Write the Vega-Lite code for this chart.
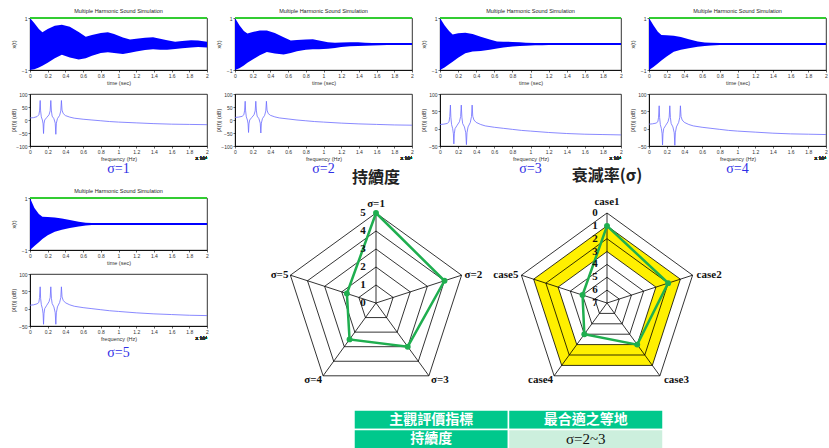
{
"$schema": "https://vega.github.io/schema/vega-lite/v6.json",
"background": "white",
"padding": {"left": 10, "top": 8, "right": 0, "bottom": 0},
"config": {
 "font": "Liberation Sans",
 "view": {"stroke": "#000", "strokeWidth": 0.8},
 "axis": {"labelFontSize": 5, "titleFontSize": 5.5, "titleFontWeight": "normal", "labelColor": "#333", "titleColor": "#333", "tickSize": 2, "tickColor": "#000", "tickWidth": 0.6, "domainColor": "#000", "domainWidth": 0.8, "labelPadding": 1, "titlePadding": 2, "grid": false, "labelOverlap": false, "labelFlush": false},
 "axisY": {"minExtent": 12, "maxExtent": 12},
 "title": {"fontWeight": "normal"}
},
"datasets": {
 "wave": [
  {"t":0,"h1":1,"l1":-1,"h2":1,"l2":-1,"h3":1,"l3":-1,"h4":1,"l4":-1,"h5":1,"l5":-1},
  {"t":0.05,"h1":0.8,"l1":-0.97,"h2":0.72,"l2":-0.93,"h3":0.72,"l3":-0.9,"h4":0.72,"l4":-0.88,"h5":0.62,"l5":-0.85},
  {"t":0.1,"h1":0.58,"l1":-0.9,"h2":0.5,"l2":-0.83,"h3":0.5,"l3":-0.78,"h4":0.47,"l4":-0.75,"h5":0.38,"l5":-0.7},
  {"t":0.14,"h1":0.45,"l1":-0.84,"h2":0.4,"l2":-0.72,"h3":0.37,"l3":-0.68,"h4":0.35,"l4":-0.63,"h5":0.28,"l5":-0.58},
  {"t":0.2,"h1":0.58,"l1":-0.72,"h2":0.46,"l2":-0.6,"h3":0.41,"l3":-0.53,"h4":0.34,"l4":-0.48,"h5":0.27,"l5":-0.43},
  {"t":0.28,"h1":0.7,"l1":-0.55,"h2":0.52,"l2":-0.43,"h3":0.43,"l3":-0.36,"h4":0.32,"l4":-0.3,"h5":0.25,"l5":-0.3},
  {"t":0.36,"h1":0.74,"l1":-0.41,"h2":0.52,"l2":-0.31,"h3":0.38,"l3":-0.29,"h4":0.27,"l4":-0.22,"h5":0.21,"l5":-0.22},
  {"t":0.45,"h1":0.66,"l1":-0.52,"h2":0.42,"l2":-0.37,"h3":0.28,"l3":-0.27,"h4":0.18,"l4":-0.16,"h5":0.15,"l5":-0.15},
  {"t":0.55,"h1":0.46,"l1":-0.6,"h2":0.26,"l2":-0.4,"h3":0.17,"l3":-0.22,"h4":0.1,"l4":-0.11,"h5":0.09,"l5":-0.1},
  {"t":0.63,"h1":0.28,"l1":-0.55,"h2":0.13,"l2":-0.35,"h3":0.1,"l3":-0.17,"h4":0.06,"l4":-0.08,"h5":0.05,"l5":-0.06},
  {"t":0.7,"h1":0.35,"l1":-0.45,"h2":0.15,"l2":-0.28,"h3":0.09,"l3":-0.13,"h4":0.05,"l4":-0.06,"h5":0.04,"l5":-0.04},
  {"t":0.8,"h1":0.42,"l1":-0.35,"h2":0.17,"l2":-0.22,"h3":0.08,"l3":-0.1,"h4":0.04,"l4":-0.04,"h5":0.02,"l5":-0.02},
  {"t":0.88,"h1":0.45,"l1":-0.32,"h2":0.18,"l2":-0.2,"h3":0.07,"l3":-0.08,"h4":0.03,"l4":-0.03,"h5":0.01,"l5":-0.01},
  {"t":0.95,"h1":0.38,"l1":-0.35,"h2":0.13,"l2":-0.2,"h3":0.05,"l3":-0.07,"h4":0.02,"l4":-0.02,"h5":0,"l5":0},
  {"t":1.05,"h1":0.25,"l1":-0.38,"h2":0.07,"l2":-0.18,"h3":0.04,"l3":-0.05,"h4":0.01,"l4":-0.01,"h5":0,"l5":0},
  {"t":1.13,"h1":0.17,"l1":-0.34,"h2":0.05,"l2":-0.15,"h3":0.03,"l3":-0.05,"h4":0,"l4":0,"h5":0,"l5":0},
  {"t":1.2,"h1":0.2,"l1":-0.29,"h2":0.06,"l2":-0.12,"h3":0.02,"l3":-0.04,"h4":0,"l4":0,"h5":0,"l5":0},
  {"t":1.3,"h1":0.24,"l1":-0.23,"h2":0.07,"l2":-0.09,"h3":0.02,"l3":-0.03,"h4":0,"l4":0,"h5":0,"l5":0},
  {"t":1.39,"h1":0.26,"l1":-0.2,"h2":0.07,"l2":-0.08,"h3":0.01,"l3":-0.02,"h4":0,"l4":0,"h5":0,"l5":0},
  {"t":1.47,"h1":0.2,"l1":-0.22,"h2":0.05,"l2":-0.07,"h3":0.01,"l3":-0.01,"h4":0,"l4":0,"h5":0,"l5":0},
  {"t":1.55,"h1":0.14,"l1":-0.22,"h2":0.04,"l2":-0.06,"h3":0,"l3":0,"h4":0,"l4":0,"h5":0,"l5":0},
  {"t":1.64,"h1":0.09,"l1":-0.19,"h2":0.03,"l2":-0.05,"h3":0,"l3":0,"h4":0,"l4":0,"h5":0,"l5":0},
  {"t":1.72,"h1":0.12,"l1":-0.16,"h2":0.03,"l2":-0.04,"h3":0,"l3":0,"h4":0,"l4":0,"h5":0,"l5":0},
  {"t":1.82,"h1":0.14,"l1":-0.13,"h2":0.03,"l2":-0.04,"h3":0,"l3":0,"h4":0,"l4":0,"h5":0,"l5":0},
  {"t":1.9,"h1":0.13,"l1":-0.12,"h2":0.03,"l2":-0.03,"h3":0,"l3":0,"h4":0,"l4":0,"h5":0,"l5":0},
  {"t":2,"h1":0.09,"l1":-0.13,"h2":0.03,"l2":-0.03,"h3":0,"l3":0,"h4":0,"l4":0,"h5":0,"l5":0}
 ],
 "spec": [
  {"f":0,"s1":8,"s2":10,"s3":12,"s4":13,"s5":10},
  {"f":0.04,"s1":9,"s2":11,"s3":13,"s4":14,"s5":11},
  {"f":0.08,"s1":13,"s2":14,"s3":15,"s4":16,"s5":14},
  {"f":0.1,"s1":20,"s2":20,"s3":20,"s4":20,"s5":18},
  {"f":0.108,"s1":35,"s2":35,"s3":35,"s4":33,"s5":32},
  {"f":0.115,"s1":75,"s2":72,"s3":68,"s4":66,"s5":63},
  {"f":0.12,"s1":35,"s2":35,"s3":33,"s4":32,"s5":30},
  {"f":0.128,"s1":12,"s2":12,"s3":12,"s4":12,"s5":12},
  {"f":0.14,"s1":0,"s2":0,"s3":0,"s4":0,"s5":0},
  {"f":0.148,"s1":-15,"s2":-15,"s3":-15,"s4":-15,"s5":-15},
  {"f":0.153,"s1":-52,"s2":-48,"s3":-44,"s4":-47,"s5":-45},
  {"f":0.158,"s1":-15,"s2":-15,"s3":-15,"s4":-15,"s5":-15},
  {"f":0.166,"s1":0,"s2":0,"s3":0,"s4":0,"s5":0},
  {"f":0.19,"s1":10,"s2":10,"s3":10,"s4":10,"s5":10},
  {"f":0.215,"s1":20,"s2":20,"s3":20,"s4":20,"s5":20},
  {"f":0.228,"s1":35,"s2":35,"s3":35,"s4":33,"s5":32},
  {"f":0.235,"s1":75,"s2":72,"s3":68,"s4":66,"s5":63},
  {"f":0.242,"s1":35,"s2":35,"s3":33,"s4":32,"s5":30},
  {"f":0.25,"s1":15,"s2":15,"s3":15,"s4":15,"s5":15},
  {"f":0.27,"s1":5,"s2":5,"s3":5,"s4":5,"s5":5},
  {"f":0.285,"s1":-12,"s2":-12,"s3":-12,"s4":-12,"s5":-12},
  {"f":0.292,"s1":-55,"s2":-50,"s3":-46,"s4":-48,"s5":-45},
  {"f":0.298,"s1":-12,"s2":-12,"s3":-12,"s4":-12,"s5":-12},
  {"f":0.31,"s1":5,"s2":5,"s3":5,"s4":5,"s5":5},
  {"f":0.335,"s1":18,"s2":18,"s3":18,"s4":18,"s5":18},
  {"f":0.348,"s1":35,"s2":35,"s3":35,"s4":33,"s5":32},
  {"f":0.355,"s1":75,"s2":72,"s3":68,"s4":66,"s5":63},
  {"f":0.362,"s1":38,"s2":38,"s3":36,"s4":35,"s5":34},
  {"f":0.375,"s1":25,"s2":25,"s3":25,"s4":25,"s5":24},
  {"f":0.4,"s1":17,"s2":18,"s3":18,"s4":18,"s5":17},
  {"f":0.45,"s1":11,"s2":12,"s3":12,"s4":12,"s5":11},
  {"f":0.5,"s1":7,"s2":8,"s3":8,"s4":8,"s5":7},
  {"f":0.6,"s1":3,"s2":4,"s3":4,"s4":4,"s5":3},
  {"f":0.7,"s1":0,"s2":0,"s3":1,"s4":1,"s5":0},
  {"f":0.8,"s1":-3,"s2":-3,"s3":-2,"s4":-2,"s5":-3},
  {"f":0.9,"s1":-6,"s2":-6,"s3":-5,"s4":-5,"s5":-6},
  {"f":1,"s1":-8,"s2":-8,"s3":-7,"s4":-7,"s5":-8},
  {"f":1.2,"s1":-11,"s2":-12,"s3":-11,"s4":-10,"s5":-12},
  {"f":1.4,"s1":-14,"s2":-15,"s3":-14,"s4":-13,"s5":-15},
  {"f":1.6,"s1":-16,"s2":-17,"s3":-16,"s4":-15,"s5":-17},
  {"f":1.8,"s1":-17,"s2":-19,"s3":-17,"s4":-16,"s5":-19},
  {"f":2,"s1":-18,"s2":-20,"s3":-18,"s4":-17,"s5":-20}
 ],
 "r1rings": [{"lv":1,"k":[0,1,2,3,4]},{"lv":2,"k":[0,1,2,3,4]},{"lv":3,"k":[0,1,2,3,4]},{"lv":4,"k":[0,1,2,3,4]},{"lv":5,"k":[0,1,2,3,4]}],
 "r2rings": [{"lv":0,"k":[0,1,2,3,4]},{"lv":1,"k":[0,1,2,3,4]},{"lv":2,"k":[0,1,2,3,4]},{"lv":3,"k":[0,1,2,3,4]},{"lv":4,"k":[0,1,2,3,4]},{"lv":5,"k":[0,1,2,3,4]},{"lv":6,"k":[0,1,2,3,4]}],
 "axes5": [{"k":0},{"k":1},{"k":2},{"k":3},{"k":4}],
 "dur": [{"k":0,"lab":"σ=1","v":5},{"k":1,"lab":"σ=2","v":4},{"k":2,"lab":"σ=3","v":3},{"k":3,"lab":"σ=4","v":2.5},{"k":4,"lab":"σ=5","v":1.7}],
 "dec": [{"k":0,"lab":"case1","v":1},{"k":1,"lab":"case2","v":2},{"k":2,"lab":"case3","v":3},{"k":3,"lab":"case4","v":4},{"k":4,"lab":"case5","v":5}],
 "tick1": [{"v":0},{"v":1},{"v":2},{"v":3},{"v":4},{"v":5}],
 "tick2": [{"v":0},{"v":1},{"v":2},{"v":3},{"v":4},{"v":5},{"v":6},{"v":7}],
 "table": [{"c":0,"r":0,"txt":"主觀評價指標","kind":"h"},{"c":1,"r":0,"txt":"最合適之等地","kind":"h"},{"c":0,"r":1,"txt":"持續度","kind":"h"},{"c":1,"r":1,"txt":"σ=2~3","kind":"v"}]
},
"spacing": -8,
"vconcat": [
 {
  "spacing": 6,
  "hconcat": [
   {"bounds": "flush", "spacing": 24, "vconcat": [
    {"width": 177, "height": 52, "title": {"text": "Multiple Harmonic Sound Simulation", "fontSize": 5.5, "offset": 2, "color": "#222"}, "data": {"name": "wave"},
     "layer": [
      {"mark": {"type": "area", "color": "#0000ff"}, "encoding": {"x": {"field": "t", "type": "quantitative", "scale": {"domain": [0, 2]}, "axis": {"title": "time (sec)", "values": [0,0.2,0.4,0.6,0.8,1,1.2,1.4,1.6,1.8,2], "format": "~g", "labelOverlap": false}}, "y": {"field": "h1", "type": "quantitative", "scale": {"domain": [-1, 1]}, "axis": {"title": "x(t)", "values": [-1,-0.5,0,0.5,1], "format": "~g", "labelOverlap": false}}, "y2": {"field": "l1"}}},
      {"mark": {"type": "rule", "color": "#0000ff", "strokeWidth": 0.8}, "encoding": {"y": {"datum": 0}}},
      {"mark": {"type": "rule", "color": "#33cc33", "strokeWidth": 1}, "encoding": {"y": {"datum": 1}}}
     ]},
    {"width": 177, "height": 52, "title": {"text": "σ=1", "orient": "bottom", "font": "Liberation Serif", "fontSize": 14, "color": "#2f2fe6", "offset": 0}, "data": {"name": "spec"},
     "layer": [
      {"mark": {"type": "line", "color": "#6b6bff", "strokeWidth": 0.8}, "encoding": {"x": {"field": "f", "type": "quantitative", "scale": {"domain": [0, 2]}, "axis": {"title": "frequency (Hz)", "values": [0,0.2,0.4,0.6,0.8,1,1.2,1.4,1.6,1.8,2], "format": "~g", "labelOverlap": false}}, "y": {"field": "s1", "type": "quantitative", "scale": {"domain": [-100, 100]}, "axis": {"title": "|X(f)| (dB)", "values": [-100,-50,0,50,100], "labelOverlap": false}}}},
      {"mark": {"type": "text", "text": "x 10⁴", "font": "DejaVu Sans", "fontSize": 4.5, "dy": 13, "align": "right", "color": "#333"}, "encoding": {"x": {"datum": 2, "type": "quantitative", "scale": {"domain": [0, 2]}, "axis": {"title": "frequency (Hz)", "values": [0,0.2,0.4,0.6,0.8,1,1.2,1.4,1.6,1.8,2], "format": "~g", "labelOverlap": false}}, "y": {"datum": -100, "type": "quantitative", "scale": {"domain": [-100, 100]}, "axis": {"title": "|X(f)| (dB)", "values": [-100,-50,0,50,100], "labelOverlap": false}}}}
     ]}
   ]},
   {"bounds": "flush", "spacing": 24, "vconcat": [
    {"width": 177, "height": 52, "title": {"text": "Multiple Harmonic Sound Simulation", "fontSize": 5.5, "offset": 2, "color": "#222"}, "data": {"name": "wave"},
     "layer": [
      {"mark": {"type": "area", "color": "#0000ff"}, "encoding": {"x": {"field": "t", "type": "quantitative", "scale": {"domain": [0, 2]}, "axis": {"title": "time (sec)", "values": [0,0.2,0.4,0.6,0.8,1,1.2,1.4,1.6,1.8,2], "format": "~g", "labelOverlap": false}}, "y": {"field": "h2", "type": "quantitative", "scale": {"domain": [-1, 1]}, "axis": {"title": "x(t)", "values": [-1,-0.5,0,0.5,1], "format": "~g", "labelOverlap": false}}, "y2": {"field": "l2"}}},
      {"mark": {"type": "rule", "color": "#0000ff", "strokeWidth": 0.8}, "encoding": {"y": {"datum": 0}}},
      {"mark": {"type": "rule", "color": "#33cc33", "strokeWidth": 1}, "encoding": {"y": {"datum": 1}}}
     ]},
    {"width": 177, "height": 52, "title": {"text": "σ=2", "orient": "bottom", "font": "Liberation Serif", "fontSize": 14, "color": "#2f2fe6", "offset": 0}, "data": {"name": "spec"},
     "layer": [
      {"mark": {"type": "line", "color": "#6b6bff", "strokeWidth": 0.8}, "encoding": {"x": {"field": "f", "type": "quantitative", "scale": {"domain": [0, 2]}, "axis": {"title": "frequency (Hz)", "values": [0,0.2,0.4,0.6,0.8,1,1.2,1.4,1.6,1.8,2], "format": "~g", "labelOverlap": false}}, "y": {"field": "s2", "type": "quantitative", "scale": {"domain": [-100, 100]}, "axis": {"title": "|X(f)| (dB)", "values": [-100,-50,0,50,100], "labelOverlap": false}}}},
      {"mark": {"type": "text", "text": "x 10⁴", "font": "DejaVu Sans", "fontSize": 4.5, "dy": 13, "align": "right", "color": "#333"}, "encoding": {"x": {"datum": 2, "type": "quantitative", "scale": {"domain": [0, 2]}, "axis": {"title": "frequency (Hz)", "values": [0,0.2,0.4,0.6,0.8,1,1.2,1.4,1.6,1.8,2], "format": "~g", "labelOverlap": false}}, "y": {"datum": -100, "type": "quantitative", "scale": {"domain": [-100, 100]}, "axis": {"title": "|X(f)| (dB)", "values": [-100,-50,0,50,100], "labelOverlap": false}}}}
     ]}
   ]},
   {"bounds": "flush", "spacing": 24, "vconcat": [
    {"width": 181, "height": 52, "title": {"text": "Multiple Harmonic Sound Simulation", "fontSize": 5.5, "offset": 2, "color": "#222"}, "data": {"name": "wave"},
     "layer": [
      {"mark": {"type": "area", "color": "#0000ff"}, "encoding": {"x": {"field": "t", "type": "quantitative", "scale": {"domain": [0, 2]}, "axis": {"title": "time (sec)", "values": [0,0.2,0.4,0.6,0.8,1,1.2,1.4,1.6,1.8,2], "format": "~g", "labelOverlap": false}}, "y": {"field": "h3", "type": "quantitative", "scale": {"domain": [-1, 1]}, "axis": {"title": "x(t)", "values": [-1,-0.5,0,0.5,1], "format": "~g", "labelOverlap": false}}, "y2": {"field": "l3"}}},
      {"mark": {"type": "rule", "color": "#0000ff", "strokeWidth": 0.8}, "encoding": {"y": {"datum": 0}}},
      {"mark": {"type": "rule", "color": "#33cc33", "strokeWidth": 1}, "encoding": {"y": {"datum": 1}}}
     ]},
    {"width": 181, "height": 52, "title": {"text": "σ=3", "orient": "bottom", "font": "Liberation Serif", "fontSize": 14, "color": "#2f2fe6", "offset": 0}, "data": {"name": "spec"},
     "layer": [
      {"mark": {"type": "line", "color": "#6b6bff", "strokeWidth": 0.8}, "encoding": {"x": {"field": "f", "type": "quantitative", "scale": {"domain": [0, 2]}, "axis": {"title": "frequency (Hz)", "values": [0,0.2,0.4,0.6,0.8,1,1.2,1.4,1.6,1.8,2], "format": "~g", "labelOverlap": false}}, "y": {"field": "s3", "type": "quantitative", "scale": {"domain": [-50, 100]}, "axis": {"title": "|X(f)| (dB)", "values": [-50,0,50,100], "labelOverlap": false}}}},
      {"mark": {"type": "text", "text": "x 10⁴", "font": "DejaVu Sans", "fontSize": 4.5, "dy": 13, "align": "right", "color": "#333"}, "encoding": {"x": {"datum": 2, "type": "quantitative", "scale": {"domain": [0, 2]}, "axis": {"title": "frequency (Hz)", "values": [0,0.2,0.4,0.6,0.8,1,1.2,1.4,1.6,1.8,2], "format": "~g", "labelOverlap": false}}, "y": {"datum": -50, "type": "quantitative", "scale": {"domain": [-50, 100]}, "axis": {"title": "|X(f)| (dB)", "values": [-50,0,50,100], "labelOverlap": false}}}}
     ]}
   ]},
   {"bounds": "flush", "spacing": 24, "vconcat": [
    {"width": 177, "height": 52, "title": {"text": "Multiple Harmonic Sound Simulation", "fontSize": 5.5, "offset": 2, "color": "#222"}, "data": {"name": "wave"},
     "layer": [
      {"mark": {"type": "area", "color": "#0000ff"}, "encoding": {"x": {"field": "t", "type": "quantitative", "scale": {"domain": [0, 2]}, "axis": {"title": "time (sec)", "values": [0,0.2,0.4,0.6,0.8,1,1.2,1.4,1.6,1.8,2], "format": "~g", "labelOverlap": false}}, "y": {"field": "h4", "type": "quantitative", "scale": {"domain": [-1, 1]}, "axis": {"title": "x(t)", "values": [-1,-0.5,0,0.5,1], "format": "~g", "labelOverlap": false}}, "y2": {"field": "l4"}}},
      {"mark": {"type": "rule", "color": "#0000ff", "strokeWidth": 0.8}, "encoding": {"y": {"datum": 0}}},
      {"mark": {"type": "rule", "color": "#33cc33", "strokeWidth": 1}, "encoding": {"y": {"datum": 1}}}
     ]},
    {"width": 177, "height": 52, "title": {"text": "σ=4", "orient": "bottom", "font": "Liberation Serif", "fontSize": 14, "color": "#2f2fe6", "offset": 0}, "data": {"name": "spec"},
     "layer": [
      {"mark": {"type": "line", "color": "#6b6bff", "strokeWidth": 0.8}, "encoding": {"x": {"field": "f", "type": "quantitative", "scale": {"domain": [0, 2]}, "axis": {"title": "frequency (Hz)", "values": [0,0.2,0.4,0.6,0.8,1,1.2,1.4,1.6,1.8,2], "format": "~g", "labelOverlap": false}}, "y": {"field": "s4", "type": "quantitative", "scale": {"domain": [-50, 100]}, "axis": {"title": "|X(f)| (dB)", "values": [-50,0,50,100], "labelOverlap": false}}}},
      {"mark": {"type": "text", "text": "x 10⁴", "font": "DejaVu Sans", "fontSize": 4.5, "dy": 13, "align": "right", "color": "#333"}, "encoding": {"x": {"datum": 2, "type": "quantitative", "scale": {"domain": [0, 2]}, "axis": {"title": "frequency (Hz)", "values": [0,0.2,0.4,0.6,0.8,1,1.2,1.4,1.6,1.8,2], "format": "~g", "labelOverlap": false}}, "y": {"datum": -50, "type": "quantitative", "scale": {"domain": [-50, 100]}, "axis": {"title": "|X(f)| (dB)", "values": [-50,0,50,100], "labelOverlap": false}}}}
     ]}
   ]}
  ]
 },
 {
  "spacing": 61,
  "hconcat": [
   {"bounds": "flush", "spacing": 24, "vconcat": [
    {"width": 177, "height": 52, "title": {"text": "Multiple Harmonic Sound Simulation", "fontSize": 5.5, "offset": 2, "color": "#222"}, "data": {"name": "wave"},
     "layer": [
      {"mark": {"type": "area", "color": "#0000ff"}, "encoding": {"x": {"field": "t", "type": "quantitative", "scale": {"domain": [0, 2]}, "axis": {"title": "time (sec)", "values": [0,0.2,0.4,0.6,0.8,1,1.2,1.4,1.6,1.8,2], "format": "~g", "labelOverlap": false}}, "y": {"field": "h5", "type": "quantitative", "scale": {"domain": [-1, 1]}, "axis": {"title": "x(t)", "values": [-1,-0.5,0,0.5,1], "format": "~g", "labelOverlap": false}}, "y2": {"field": "l5"}}},
      {"mark": {"type": "rule", "color": "#0000ff", "strokeWidth": 0.8}, "encoding": {"y": {"datum": 0}}},
      {"mark": {"type": "rule", "color": "#33cc33", "strokeWidth": 1}, "encoding": {"y": {"datum": 1}}}
     ]},
    {"width": 177, "height": 52, "title": {"text": "σ=5", "orient": "bottom", "font": "Liberation Serif", "fontSize": 14, "color": "#2f2fe6", "offset": 4}, "data": {"name": "spec"},
     "layer": [
      {"mark": {"type": "line", "color": "#6b6bff", "strokeWidth": 0.8}, "encoding": {"x": {"field": "f", "type": "quantitative", "scale": {"domain": [0, 2]}, "axis": {"title": "frequency (Hz)", "values": [0,0.2,0.4,0.6,0.8,1,1.2,1.4,1.6,1.8,2], "format": "~g", "labelOverlap": false}}, "y": {"field": "s5", "type": "quantitative", "scale": {"domain": [-50, 100]}, "axis": {"title": "|X(f)| (dB)", "values": [-50,0,50,100], "labelOverlap": false}}}},
      {"mark": {"type": "text", "text": "x 10⁴", "font": "DejaVu Sans", "fontSize": 4.5, "dy": 13, "align": "right", "color": "#333"}, "encoding": {"x": {"datum": 2, "type": "quantitative", "scale": {"domain": [0, 2]}, "axis": {"title": "frequency (Hz)", "values": [0,0.2,0.4,0.6,0.8,1,1.2,1.4,1.6,1.8,2], "format": "~g", "labelOverlap": false}}, "y": {"datum": -50, "type": "quantitative", "scale": {"domain": [-50, 100]}, "axis": {"title": "|X(f)| (dB)", "values": [-50,0,50,100], "labelOverlap": false}}}}
     ]}
   ]},
   {"spacing": 16, "vconcat": [
    {"spacing": 10, "hconcat": [
     {"width": 180, "height": 195, "view": {"stroke": null},
      "title": {"text": "持續度", "font": "Noto Sans CJK TC", "fontSize": 16, "fontWeight": "bold", "color": "#222", "offset": 12},
      "layer": [
       {"data": {"name": "r1rings"}, "transform": [{"flatten": ["k"]}, {"calculate": "datum.lv/5*sin(datum.k*2*PI/5)", "as": "x"}, {"calculate": "datum.lv/5*cos(datum.k*2*PI/5)", "as": "y"}],
        "mark": {"type": "line", "color": "#000", "strokeWidth": 0.8, "interpolate": "linear-closed"},
        "encoding": {"x": {"field": "x", "type": "quantitative", "scale": {"domain": [-1, 1]}, "axis": null}, "y": {"field": "y", "type": "quantitative", "scale": {"domain": [-1, 1.1667]}, "axis": null}, "detail": {"field": "lv"}, "order": {"field": "k"}}},
       {"data": {"name": "axes5"}, "transform": [{"calculate": "sin(datum.k*2*PI/5)", "as": "x"}, {"calculate": "cos(datum.k*2*PI/5)", "as": "y"}, {"calculate": "0", "as": "o"}],
        "mark": {"type": "rule", "color": "#000", "strokeWidth": 0.8},
        "encoding": {"x": {"field": "x", "type": "quantitative", "scale": {"domain": [-1, 1]}, "axis": null}, "y": {"field": "y", "type": "quantitative", "scale": {"domain": [-1, 1.1667]}, "axis": null}, "x2": {"field": "o"}, "y2": {"field": "o"}}},
       {"data": {"name": "dur"}, "transform": [{"calculate": "datum.v/5*sin(datum.k*2*PI/5)", "as": "x"}, {"calculate": "datum.v/5*cos(datum.k*2*PI/5)", "as": "y"}],
        "mark": {"type": "line", "color": "#1fae4f", "strokeWidth": 2.5, "interpolate": "linear-closed"},
        "encoding": {"x": {"field": "x", "type": "quantitative", "scale": {"domain": [-1, 1]}, "axis": null}, "y": {"field": "y", "type": "quantitative", "scale": {"domain": [-1, 1.1667]}, "axis": null}, "order": {"field": "k"}}},
       {"data": {"name": "dur"}, "transform": [{"calculate": "datum.v/5*sin(datum.k*2*PI/5)", "as": "x"}, {"calculate": "datum.v/5*cos(datum.k*2*PI/5)", "as": "y"}],
        "mark": {"type": "point", "filled": true, "color": "#1fae4f", "size": 35, "opacity": 1},
        "encoding": {"x": {"field": "x", "type": "quantitative", "scale": {"domain": [-1, 1]}, "axis": null}, "y": {"field": "y", "type": "quantitative", "scale": {"domain": [-1, 1.1667]}, "axis": null}}},
       {"data": {"name": "tick1"}, "transform": [{"calculate": "datum.v/5", "as": "y"}, {"calculate": "0", "as": "x"}],
        "mark": {"type": "text", "font": "Liberation Serif", "fontWeight": "bold", "fontSize": 11, "dx": -13, "color": "#111"},
        "encoding": {"x": {"field": "x", "type": "quantitative", "scale": {"domain": [-1, 1]}, "axis": null}, "y": {"field": "y", "type": "quantitative", "scale": {"domain": [-1, 1.1667]}, "axis": null}, "text": {"field": "v", "type": "quantitative"}}},
       {"data": {"name": "dur"}, "transform": [{"filter": "datum.k==0"}, {"calculate": "sin(datum.k*2*PI/5)", "as": "x"}, {"calculate": "cos(datum.k*2*PI/5)", "as": "y"}],
        "mark": {"type": "text", "font": "Liberation Serif", "fontWeight": "bold", "fontSize": 11, "color": "#111", "align": "center", "dy": -9},
        "encoding": {"x": {"field": "x", "type": "quantitative", "scale": {"domain": [-1, 1]}, "axis": null}, "y": {"field": "y", "type": "quantitative", "scale": {"domain": [-1, 1.1667]}, "axis": null}, "text": {"field": "lab"}}},
       {"data": {"name": "dur"}, "transform": [{"filter": "datum.k==1"}, {"calculate": "sin(datum.k*2*PI/5)", "as": "x"}, {"calculate": "cos(datum.k*2*PI/5)", "as": "y"}],
        "mark": {"type": "text", "font": "Liberation Serif", "fontWeight": "bold", "fontSize": 11, "color": "#111", "align": "left", "dx": 3},
        "encoding": {"x": {"field": "x", "type": "quantitative", "scale": {"domain": [-1, 1]}, "axis": null}, "y": {"field": "y", "type": "quantitative", "scale": {"domain": [-1, 1.1667]}, "axis": null}, "text": {"field": "lab"}}},
       {"data": {"name": "dur"}, "transform": [{"filter": "datum.k==2"}, {"calculate": "sin(datum.k*2*PI/5)", "as": "x"}, {"calculate": "cos(datum.k*2*PI/5)", "as": "y"}],
        "mark": {"type": "text", "font": "Liberation Serif", "fontWeight": "bold", "fontSize": 11, "color": "#111", "align": "left", "dx": 2, "dy": 4},
        "encoding": {"x": {"field": "x", "type": "quantitative", "scale": {"domain": [-1, 1]}, "axis": null}, "y": {"field": "y", "type": "quantitative", "scale": {"domain": [-1, 1.1667]}, "axis": null}, "text": {"field": "lab"}}},
       {"data": {"name": "dur"}, "transform": [{"filter": "datum.k==3"}, {"calculate": "sin(datum.k*2*PI/5)", "as": "x"}, {"calculate": "cos(datum.k*2*PI/5)", "as": "y"}],
        "mark": {"type": "text", "font": "Liberation Serif", "fontWeight": "bold", "fontSize": 11, "color": "#111", "align": "right", "dx": -1, "dy": 4},
        "encoding": {"x": {"field": "x", "type": "quantitative", "scale": {"domain": [-1, 1]}, "axis": null}, "y": {"field": "y", "type": "quantitative", "scale": {"domain": [-1, 1.1667]}, "axis": null}, "text": {"field": "lab"}}},
       {"data": {"name": "dur"}, "transform": [{"filter": "datum.k==4"}, {"calculate": "sin(datum.k*2*PI/5)", "as": "x"}, {"calculate": "cos(datum.k*2*PI/5)", "as": "y"}],
        "mark": {"type": "text", "font": "Liberation Serif", "fontWeight": "bold", "fontSize": 11, "color": "#111", "align": "right", "dx": -2},
        "encoding": {"x": {"field": "x", "type": "quantitative", "scale": {"domain": [-1, 1]}, "axis": null}, "y": {"field": "y", "type": "quantitative", "scale": {"domain": [-1, 1.1667]}, "axis": null}, "text": {"field": "lab"}}}
      ]},
     {"width": 180, "height": 195, "view": {"stroke": null},
      "title": {"text": "衰減率(σ)", "font": "Noto Sans CJK TC", "fontSize": 16, "fontWeight": "bold", "color": "#222", "offset": 12},
      "layer": [
       {"data": {"name": "r2rings"}, "transform": [{"filter": "datum.lv==1"}, {"flatten": ["k"]}, {"calculate": "(7-datum.lv)/7*sin(datum.k*2*PI/5)", "as": "x"}, {"calculate": "(7-datum.lv)/7*cos(datum.k*2*PI/5)", "as": "y"}],
        "mark": {"type": "line", "fill": "#fff000", "strokeWidth": 0, "interpolate": "linear-closed"},
        "encoding": {"x": {"field": "x", "type": "quantitative", "scale": {"domain": [-1, 1]}, "axis": null}, "y": {"field": "y", "type": "quantitative", "scale": {"domain": [-1, 1.1667]}, "axis": null}, "order": {"field": "k"}}},
       {"data": {"name": "r2rings"}, "transform": [{"filter": "datum.lv==3"}, {"flatten": ["k"]}, {"calculate": "(7-datum.lv)/7*sin(datum.k*2*PI/5)", "as": "x"}, {"calculate": "(7-datum.lv)/7*cos(datum.k*2*PI/5)", "as": "y"}],
        "mark": {"type": "line", "fill": "#ffffff", "strokeWidth": 0, "interpolate": "linear-closed"},
        "encoding": {"x": {"field": "x", "type": "quantitative", "scale": {"domain": [-1, 1]}, "axis": null}, "y": {"field": "y", "type": "quantitative", "scale": {"domain": [-1, 1.1667]}, "axis": null}, "order": {"field": "k"}}},
       {"data": {"name": "r2rings"}, "transform": [{"flatten": ["k"]}, {"calculate": "(7-datum.lv)/7*sin(datum.k*2*PI/5)", "as": "x"}, {"calculate": "(7-datum.lv)/7*cos(datum.k*2*PI/5)", "as": "y"}],
        "mark": {"type": "line", "color": "#000", "strokeWidth": 0.8, "interpolate": "linear-closed"},
        "encoding": {"x": {"field": "x", "type": "quantitative", "scale": {"domain": [-1, 1]}, "axis": null}, "y": {"field": "y", "type": "quantitative", "scale": {"domain": [-1, 1.1667]}, "axis": null}, "detail": {"field": "lv"}, "order": {"field": "k"}}},
       {"data": {"name": "axes5"}, "transform": [{"calculate": "sin(datum.k*2*PI/5)", "as": "x"}, {"calculate": "cos(datum.k*2*PI/5)", "as": "y"}, {"calculate": "0", "as": "o"}],
        "mark": {"type": "rule", "color": "#000", "strokeWidth": 0.8},
        "encoding": {"x": {"field": "x", "type": "quantitative", "scale": {"domain": [-1, 1]}, "axis": null}, "y": {"field": "y", "type": "quantitative", "scale": {"domain": [-1, 1.1667]}, "axis": null}, "x2": {"field": "o"}, "y2": {"field": "o"}}},
       {"data": {"name": "dec"}, "transform": [{"calculate": "(7-datum.v)/7*sin(datum.k*2*PI/5)", "as": "x"}, {"calculate": "(7-datum.v)/7*cos(datum.k*2*PI/5)", "as": "y"}],
        "mark": {"type": "line", "color": "#1fae4f", "strokeWidth": 2.5, "interpolate": "linear-closed"},
        "encoding": {"x": {"field": "x", "type": "quantitative", "scale": {"domain": [-1, 1]}, "axis": null}, "y": {"field": "y", "type": "quantitative", "scale": {"domain": [-1, 1.1667]}, "axis": null}, "order": {"field": "k"}}},
       {"data": {"name": "dec"}, "transform": [{"calculate": "(7-datum.v)/7*sin(datum.k*2*PI/5)", "as": "x"}, {"calculate": "(7-datum.v)/7*cos(datum.k*2*PI/5)", "as": "y"}],
        "mark": {"type": "point", "filled": true, "color": "#1fae4f", "size": 35, "opacity": 1},
        "encoding": {"x": {"field": "x", "type": "quantitative", "scale": {"domain": [-1, 1]}, "axis": null}, "y": {"field": "y", "type": "quantitative", "scale": {"domain": [-1, 1.1667]}, "axis": null}}},
       {"data": {"name": "tick2"}, "transform": [{"calculate": "(7-datum.v)/7", "as": "y"}, {"calculate": "0", "as": "x"}],
        "mark": {"type": "text", "font": "Liberation Serif", "fontWeight": "bold", "fontSize": 11, "dx": -12, "color": "#111"},
        "encoding": {"x": {"field": "x", "type": "quantitative", "scale": {"domain": [-1, 1]}, "axis": null}, "y": {"field": "y", "type": "quantitative", "scale": {"domain": [-1, 1.1667]}, "axis": null}, "text": {"field": "v", "type": "quantitative"}}},
       {"data": {"name": "dec"}, "transform": [{"filter": "datum.k==0"}, {"calculate": "sin(datum.k*2*PI/5)", "as": "x"}, {"calculate": "cos(datum.k*2*PI/5)", "as": "y"}],
        "mark": {"type": "text", "font": "Liberation Serif", "fontWeight": "bold", "fontSize": 11, "color": "#111", "align": "center", "dy": -11},
        "encoding": {"x": {"field": "x", "type": "quantitative", "scale": {"domain": [-1, 1]}, "axis": null}, "y": {"field": "y", "type": "quantitative", "scale": {"domain": [-1, 1.1667]}, "axis": null}, "text": {"field": "lab"}}},
       {"data": {"name": "dec"}, "transform": [{"filter": "datum.k==1"}, {"calculate": "sin(datum.k*2*PI/5)", "as": "x"}, {"calculate": "cos(datum.k*2*PI/5)", "as": "y"}],
        "mark": {"type": "text", "font": "Liberation Serif", "fontWeight": "bold", "fontSize": 11, "color": "#111", "align": "left", "dx": 4},
        "encoding": {"x": {"field": "x", "type": "quantitative", "scale": {"domain": [-1, 1]}, "axis": null}, "y": {"field": "y", "type": "quantitative", "scale": {"domain": [-1, 1.1667]}, "axis": null}, "text": {"field": "lab"}}},
       {"data": {"name": "dec"}, "transform": [{"filter": "datum.k==2"}, {"calculate": "sin(datum.k*2*PI/5)", "as": "x"}, {"calculate": "cos(datum.k*2*PI/5)", "as": "y"}],
        "mark": {"type": "text", "font": "Liberation Serif", "fontWeight": "bold", "fontSize": 11, "color": "#111", "align": "left", "dx": 4, "dy": 4},
        "encoding": {"x": {"field": "x", "type": "quantitative", "scale": {"domain": [-1, 1]}, "axis": null}, "y": {"field": "y", "type": "quantitative", "scale": {"domain": [-1, 1.1667]}, "axis": null}, "text": {"field": "lab"}}},
       {"data": {"name": "dec"}, "transform": [{"filter": "datum.k==3"}, {"calculate": "sin(datum.k*2*PI/5)", "as": "x"}, {"calculate": "cos(datum.k*2*PI/5)", "as": "y"}],
        "mark": {"type": "text", "font": "Liberation Serif", "fontWeight": "bold", "fontSize": 11, "color": "#111", "align": "right", "dx": -1, "dy": 4},
        "encoding": {"x": {"field": "x", "type": "quantitative", "scale": {"domain": [-1, 1]}, "axis": null}, "y": {"field": "y", "type": "quantitative", "scale": {"domain": [-1, 1.1667]}, "axis": null}, "text": {"field": "lab"}}},
       {"data": {"name": "dec"}, "transform": [{"filter": "datum.k==4"}, {"calculate": "sin(datum.k*2*PI/5)", "as": "x"}, {"calculate": "cos(datum.k*2*PI/5)", "as": "y"}],
        "mark": {"type": "text", "font": "Liberation Serif", "fontWeight": "bold", "fontSize": 11, "color": "#111", "align": "right", "dx": -3},
        "encoding": {"x": {"field": "x", "type": "quantitative", "scale": {"domain": [-1, 1]}, "axis": null}, "y": {"field": "y", "type": "quantitative", "scale": {"domain": [-1, 1.1667]}, "axis": null}, "text": {"field": "lab"}}}
      ]}
    ]},
    {"width": 377, "height": 39, "view": {"stroke": null}, "data": {"name": "table"},
     "transform": [{"calculate": "datum.c+1", "as": "c1"}, {"calculate": "datum.r+1", "as": "r1"}, {"calculate": "datum.c+0.5", "as": "cm"}, {"calculate": "datum.r+0.5", "as": "rm"}],
     "layer": [
      {"mark": {"type": "rect", "stroke": "white", "strokeWidth": 1.5},
       "encoding": {"x": {"field": "c", "type": "quantitative", "scale": {"domain": [-0.44, 2]}, "axis": null}, "x2": {"field": "c1"}, "y": {"field": "r", "type": "quantitative", "scale": {"domain": [0, 2], "reverse": true}, "axis": null}, "y2": {"field": "r1"}, "color": {"field": "kind", "type": "nominal", "scale": {"domain": ["h", "v"], "range": ["#00c88c", "#ccefdd"]}, "legend": null}}},
      {"transform": [{"filter": "datum.kind=='h'"}], "mark": {"type": "text", "font": "Noto Sans CJK TC", "fontWeight": "bold", "fontSize": 14, "color": "white"},
       "encoding": {"x": {"field": "cm", "type": "quantitative", "scale": {"domain": [-0.44, 2]}, "axis": null}, "y": {"field": "rm", "type": "quantitative", "scale": {"domain": [0, 2], "reverse": true}, "axis": null}, "text": {"field": "txt"}}},
      {"transform": [{"filter": "datum.kind=='v'"}], "mark": {"type": "text", "font": "Liberation Serif", "fontSize": 15, "color": "#111"},
       "encoding": {"x": {"field": "cm", "type": "quantitative", "scale": {"domain": [-0.44, 2]}, "axis": null}, "y": {"field": "rm", "type": "quantitative", "scale": {"domain": [0, 2], "reverse": true}, "axis": null}, "text": {"field": "txt"}}}
     ]}
   ]}
  ]
 }
]
}
